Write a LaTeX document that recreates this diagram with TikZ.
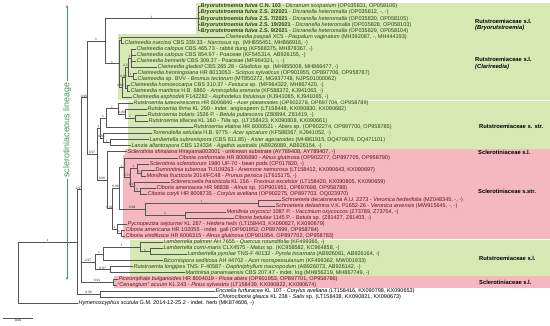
\documentclass[tikz,border=0pt]{standalone}
\usepackage{fontspec}
\setmainfont{Liberation Sans}
\usetikzlibrary{arrows.meta}
\definecolor{boxg}{RGB}{215,233,179}
\definecolor{boxp}{RGB}{246,184,192}
\definecolor{txg}{RGB}{40,68,18}
\definecolor{txp}{RGB}{95,18,25}
\definecolor{brc}{RGB}{85,85,85}
\definecolor{lincol}{RGB}{60,150,100}
\newcommand{\tedge}[3]{\draw[br] (#1) |- node[sv]{#3} (#2);}
\newcommand{\tleaf}[2]{\draw[br] (#1) |- (#2.west);}
\tikzset{
  br/.style={draw=brc, line width=0.4pt},
  lf/.style={anchor=west, inner sep=0.4pt, font=\fontsize{5.5}{6}\selectfont},
  lfg/.style={lf, text=txg},
  lfp/.style={lf, text=txp},
  lfk/.style={lf, text=black},
  sv/.style={font=\fontsize{3.3}{3.5}\selectfont, anchor=south, inner sep=0.3pt, text=black!80, pos=0.75},
  grp/.style={anchor=west, font=\fontsize{5.8}{6.6}\selectfont\bfseries, inner sep=0pt, align=left},
}
\begin{document}
\begin{tikzpicture}[x=1pt,y=-1pt]
\useasboundingbox (0,0) rectangle (550,326);
% coloured group boxes
\fill[boxg] (196,3.4) rectangle (550,33.7);
\fill[boxg] (118,34.5) rectangle (550,100.3);
\fill[boxg] (128,101.1) rectangle (550,148.7);
\fill[boxp] (125,149.5) rectangle (550,154.7);
\fill[boxp] (123,155.5) rectangle (550,239.4);
\fill[boxg] (130,240.2) rectangle (550,275.7);
\fill[boxp] (114,276.5) rectangle (550,287.8);

% leaves
\node[lfg] (l1) at (200,6.5) {\textbf{\textit{Bryorutstroemia fulva} C.N. 103} - \textit{Dicranum scoparium} (OP035831, OP058106)};
\node[lfg] (l2) at (200,12.55) {\textbf{\textit{Bryorutstroemia fulva} Z.S. 2/2021} - \textit{Dicranella heteromalla} (OP035812, -, -)};
\node[lfg] (l3) at (200,18.6) {\textbf{\textit{Bryorutstroemia fulva} Z.S. 7/2021} - \textit{Dicranella heteromalla} (OP035830, OP058105)};
\node[lfg] (l4) at (200,24.65) {\textbf{\textit{Bryorutstroemia fulva} Z.S. 19/2021} - \textit{Dicranella heteromalla} (OP035828, OP058103)};
\node[lfg] (l5) at (200,30.7) {\textbf{\textit{Bryorutstroemia fulva} Z.S. 9/2021} - \textit{Dicranella heteromalla} (OP035829, OP058104)};
\node[lfg] (l6) at (225,36.75) {\textit{Clarireedia paspali} XC5 - \textit{Paspalum vaginatum} (MH392087, -, MH444193)};
\node[lfg] (l7) at (124,42.8) {\textit{Clarireedia narcissi} CBS 339.33 - \textit{Narcissus} sp. (MH855451, MH866916, -)};
\node[lfg] (l8) at (136,48.85) {\textit{Clarireedia calopus} CBS 465.73 - rabbit dung (KF588375, MH878367, -)};
\node[lfg] (l9) at (136,54.9) {\textit{Clarireedia calopus} CBS 854.97 - Poaceae (KF545314, AB926155, -)};
\node[lfg] (l10) at (136,60.95) {\textit{Clarireedia bennettii} CBS 309.37 - Poaceae (MF964321, -, -)};
\node[lfg] (l11) at (157,67.0) {\textit{Clarireedia gladioli} CBS 265.28 - \textit{Gladiolus} sp. (MH855008, MH866477, -)};
\node[lfg] (l12) at (137,73.05) {\textit{Clarireedia henningsiana} HR 8013053 - \textit{Scirpus sylvaticus} (OP901955, OP897706, OP958787)};
\node[lfg] (l13) at (137,79.1) {\textit{Clarireedia} sp. BVV - \textit{Bromus tectorum} (MT850272, MG937748, NJPS01000062)};
\node[lfg] (l14) at (130,85.15) {\textit{Clarireedia homoeocarpa} CBS 310.37 - \textit{Festuca} sp. (MF964322, MH867420, -)};
\node[lfg] (l15) at (130,91.2) {\textit{Clarireedia maritima} H.B. 6860 - \textit{Ammophila arenaria} (KF588372, KJ941063, -)};
\node[lfg] (l16) at (132,97.25) {\textit{Clarireedia asphodeli} F142282 - \textit{Asphodelus fistulosus} (KJ941085, KJ941065, -)};
\node[lfg] (l17) at (133,103.3) {\textit{Rutstroemia luteovirescens} HR 8006840 - \textit{Acer platanoides} (OP902278, OP897704, OP958789)};
\node[lfg] (l18) at (147,109.35) {\textit{Rutstroemia firma} KL 290 - indet. angiosperm (LT158448, KX090830, KX090682)};
\node[lfg] (l19) at (147,115.4) {\textit{Rutstroemia bolaris} 1526 P. - \textit{Betula pubescens} (Z80894, Z81419, -)};
\node[lfg] (l20) at (148,121.45) {\textit{Rutstroemia tiliacea} KL 160 - \textit{Tilia} sp. (LT158423, KX090808, KX090661)};
\node[lfg] (l21) at (193,127.5) {\textit{Rutstroemia elatina} HR 8000521 - \textit{Abies} sp. (OP902274, OP897700, OP958785)};
\node[lfg] (l22) at (152,133.55) {\textit{Torrendiella setulata} H.B. 9775 - \textit{Acer spicatum} (KF588367, KJ941052, -)};
\node[lfg] (l23) at (149,139.6) {\textit{Lambertella subrenispora} (CBS 811.85) - \textit{Aster ageratoides} (MH861915, DQ470978, DQ471101)};
\node[lfg] (l24) at (131,145.65) {\textit{Lanzia allantospora} CBS 124334 - \textit{Agathis australis} (AB926089, AB926154, -)};
\node[lfp] (l25) at (127,151.7) {\textit{Sclerotinia shiraiana} Hirayama002001 - unknown substrate (AY789408, AY789407, -)};
\node[lfp] (l26) at (178,157.75) {\textit{Ciboria conformata} HR 8006890 - \textit{Alnus glutinosa} (OP902277, OP897705, OP958790)};
\node[lfp] (l27) at (149,163.8) {\textit{Sclerotinia sclerotiorum} 1980 UF-70 - bean pods (CP017820, -)};
\node[lfp] (l28) at (155,169.85) {\textit{Dumontinia tuberosa} TU109263 - \textit{Anemone nemorosa} (LT158412, KX090643, KX090697)};
\node[lfp] (l29) at (146,175.9) {\textit{Monilinia fructicola} 2014/FC48 - \textit{Prunus persica} (LT615175, -)};
\node[lfp] (l30) at (170,181.95) {\textit{Sclerencoelia fraxinicola} KL 156 - \textit{Fraxinus excelsior} (LT158420, KX090805, KX090659)};
\node[lfp] (l31) at (156,188.0) {\textit{Ciboria amentacea} HR 98838 - \textit{Alnus} sp. (OP901951, OP897698, OP958788)};
\node[lfp] (l32) at (147,194.05) {\textit{Ciboria coryli} HR 8008735 - \textit{Corylus avellana} (OP902275, OP897703, OQ023970)};
\node[lfp] (l33) at (281,200.1) {\textit{Schroeteria decaisneana} A.U. 2273 - \textit{Veronica hederifolia} (MZ048345, -, -)};
\node[lfp] (l34) at (275,206.15) {\textit{Schroeteria delastrina} V.K. P1652-26 - \textit{Veronica arvensis} (MW915645, -, -)};
\node[lfp] (l35) at (226,212.2) {\textit{Monilinia oxycocci} 1087 P. - \textit{Vaccinium oxycoccos} (Z73789, Z73754, -)};
\node[lfp] (l36) at (234,218.25) {\textit{Ciboria betulae} 1145 P. - \textit{Betula} sp. (Z81427, Z81403, -)};
\node[lfp] (l37) at (127,224.3) {\textit{Pycnopeziza sejournei} KL 267 - \textit{Hedera helix} (LT158443, KX090827, KX090679)};
\node[lfp] (l38) at (125,230.35) {\textit{Ciboria americana} HR 102055 - indet. gall (OP901952, OP897699, OP958784)};
\node[lfp] (l39) at (125,236.4) {\textit{Ciboria viridifusca} HR 8006315 - \textit{Alnus glutinosa} (OP901954, OP897702, OP958783)};
\node[lfg] (l40) at (163,242.45) {\textit{Lambertella palmeri} AH 7655 - \textit{Quercus rotundifolia} (KF499365, -)};
\node[lfg] (l41) at (163,248.5) {\textit{Lambertella corni-maris} CLX4575 - \textit{Malus} sp. (KC958582, KC964858, -)};
\node[lfg] (l42) at (187,254.55) {\textit{Lambertella pyrolae} TNS-F 40132 - \textit{Pyrola incarnata} (AB926081, AB926164, -)};
\node[lfg] (l43) at (163,260.6) {\textit{Bicornispora seditiosa} AH 44702 - \textit{Acer monspessulanum} (KF499362, MW001933)};
\node[lfg] (l44) at (133,266.65) {\textit{Rutstroemia longipes} TNS: F-40587 - \textit{Daphniphyllum macropodum} (AB926073, AB926142, -)};
\node[lfg] (l45) at (185,272.7) {\textit{Martininia panamaensis} CBS 207.47 - indet. log (MH856219, MH867749, -)};
\node[lfp] (l46) at (118,278.75) {\textit{Piceomphale bulgarioides} HR 8004019 - \textit{Picea abies} (OP901953, OP897701, OP958786)};
\node[lfp] (l47) at (117,284.8) {``\textit{Cenangium}'' \textit{acuum} KL 243 - \textit{Pinus sylvestris} (LT158439, KX090822, KX090674)};
\node[lfk] (l48) at (215,290.85) {\textit{Encoelia furfuracea} KL 107 - \textit{Corylus avellana} (LT158416, KX090798, KX090653)};
\node[lfk] (l49) at (218,296.9) {\textit{Chlorociboria glauca} KL 238 - \textit{Salix} sp. (LT158438, KX090821, KX090673)};
\node[lfk] (l50) at (78,302.95) {\textit{Hymenoscyphus scutula} G.M. 2014-12-25.2 - indet. herb (MK874606, -)};

% internal nodes
\coordinate (R) at (18,272.4);
\coordinate (N1) at (77,241.78);
\coordinate (NL) at (81,189.69);
\coordinate (N2) at (87,97.6);
\coordinate (C1) at (105,41.1);
\coordinate (Bry) at (198,18.6);
\coordinate (Cla) at (119,63.6);
\coordinate (Kpn) at (121,39.775);
\coordinate (K2) at (122,87.42);
\coordinate (K3) at (125,77.59);
\coordinate (K5) at (128,67.0);
\coordinate (Kc) at (131,57.93);
\coordinate (Kh) at (133,76.08);
\coordinate (K6) at (127,88.18);
\coordinate (N3) at (97,154.11);
\coordinate (Rs) at (100,128.07);
\coordinate (Ra) at (106,118.05);
\coordinate (Rc) at (118,108.6);
\coordinate (Rd) at (125,113.89);
\coordinate (Re) at (135,118.43);
\coordinate (Rb) at (103,138.09);
\coordinate (Rf) at (110,142.63);
\coordinate (Sc) at (107,180.16);
\coordinate (Ss) at (112,208.61);
\coordinate (S1) at (119,188.38);
\coordinate (S3) at (124,167.58);
\coordinate (S5) at (130,177.41);
\coordinate (S6) at (137,168.34);
\coordinate (S8) at (141,172.88);
\coordinate (S7) at (134,186.49);
\coordinate (S9) at (140,191.03);
\coordinate (S4) at (145,209.18);
\coordinate (Sch) at (258,203.13);
\coordinate (S10) at (185,215.23);
\coordinate (S2) at (117,228.84);
\coordinate (S11) at (121,233.38);
\coordinate (N7) at (95,261.74);
\coordinate (L1) at (103,253.8);
\coordinate (L3) at (140,246.99);
\coordinate (L4) at (150,251.53);
\coordinate (L2) at (110,269.68);
\coordinate (NPC) at (113,281.78);
\coordinate (NEC) at (100,293.88);

% branches
\tedge{R}{N1}{1} \tleaf{R}{l50}
\tedge{N1}{NL}{0.97} \tedge{N1}{NEC}{0.99}
\tedge{NL}{N2}{0.95} \tedge{NL}{N7}{0.97} \tedge{NL}{NPC}{0.91}
\tedge{N2}{C1}{1} \tedge{N2}{N3}{0.97}
\tedge{C1}{Bry}{1} \tedge{C1}{Cla}{1}
\tleaf{Bry}{l1} \tleaf{Bry}{l2} \tleaf{Bry}{l3} \tleaf{Bry}{l4} \tleaf{Bry}{l5}
\tedge{Cla}{Kpn}{1} \tedge{Cla}{K2}{0.98}
\tleaf{Kpn}{l6} \tleaf{Kpn}{l7}
\tedge{K2}{K3}{0.98} \tleaf{K2}{l16}
\tedge{K3}{K5}{0.51} \tedge{K3}{K6}{1}
\tedge{K5}{Kc}{1} \tedge{K5}{Kh}{1}
\tleaf{Kc}{l8} \tleaf{Kc}{l9} \tleaf{Kc}{l10} \tleaf{Kc}{l11}
\tleaf{Kh}{l12} \tleaf{Kh}{l13}
\tleaf{K6}{l14} \tleaf{K6}{l15}
\tedge{N3}{Rs}{1} \tedge{N3}{Sc}{0.95}
\tedge{Rs}{Ra}{1} \tedge{Rs}{Rb}{0.95}
\tedge{Ra}{Rc}{1} \tleaf{Ra}{l21}
\tleaf{Rc}{l17} \tedge{Rc}{Rd}{0.99}
\tleaf{Rd}{l18} \tedge{Rd}{Re}{1}
\tleaf{Re}{l19} \tleaf{Re}{l20}
\tleaf{Rb}{l22} \tedge{Rb}{Rf}{1}
\tleaf{Rf}{l23} \tleaf{Rf}{l24}
\tleaf{Sc}{l25} \tedge{Sc}{Ss}{0.99}
\tedge{Ss}{S1}{0.99} \tedge{Ss}{S2}{1}
\tedge{S1}{S3}{1} \tedge{S1}{S4}{0.99}
\tleaf{S3}{l26} \tedge{S3}{S5}{0.73}
\tedge{S5}{S6}{1} \tedge{S5}{S7}{0.97}
\tleaf{S6}{l27} \tedge{S6}{S8}{1}
\tleaf{S8}{l28} \tleaf{S8}{l29}
\tleaf{S7}{l30} \tedge{S7}{S9}{1}
\tleaf{S9}{l31} \tleaf{S9}{l32}
\tedge{S4}{Sch}{1} \tedge{S4}{S10}{1}
\tleaf{Sch}{l33} \tleaf{Sch}{l34}
\tleaf{S10}{l35} \tleaf{S10}{l36}
\tleaf{S2}{l37} \tedge{S2}{S11}{1}
\tleaf{S11}{l38} \tleaf{S11}{l39}
\tedge{N7}{L1}{1} \tedge{N7}{L2}{0.97}
\tedge{L1}{L3}{1} \tleaf{L1}{l43}
\tleaf{L3}{l40} \tedge{L3}{L4}{1}
\tleaf{L4}{l41} \tleaf{L4}{l42}
\tleaf{L2}{l44} \tleaf{L2}{l45}
\tleaf{NPC}{l46} \tleaf{NPC}{l47}
\tleaf{NEC}{l48} \tleaf{NEC}{l49}

% lineage arrow
\node[rotate=90, text=lincol, font=\fontsize{8.9}{10}\selectfont, inner sep=1.5pt] (lin) at (67,130) {sclerotiniaceous lineage};
\coordinate (aT) at (67,5);
\coordinate (aB) at (67,280);
\draw[lincol, line width=0.6pt, -{Stealth[length=3pt,width=2.4pt]}] (lin.east) -- (aT);
\draw[lincol, line width=0.6pt, -{Stealth[length=3pt,width=2.4pt]}] (lin.west) -- (aB);

% scale bar
\coordinate (sb1) at (3,318);
\coordinate (sb2) at (33,318);
\draw[br] (sb1) -- node[below, font=\fontsize{3.3}{3.5}\selectfont, inner sep=1pt] {0.05} (sb2);

% group labels
\node[grp] (g1) at (475,25) {Rutstroemiaceae s.l.\\\textit{(Bryorutstroemia)}};
\node[grp] (g2) at (475,63.5) {Rutstroemiaceae s.l.\\\textit{(Clarireedia)}};
\node[grp] (g3) at (479,126) {Rutstroemiaceae s. str.};
\node[grp] (g4) at (478,152) {Sclerotiniaceae s.l.};
\node[grp] (g5) at (478,191) {Sclerotiniaceae s.str.};
\node[grp] (g6) at (479,258) {Rutstroemiaceae s.l.};
\node[grp] (g7) at (479,282.5) {Sclerotiniaceae s.l.};
\end{tikzpicture}
\end{document}
